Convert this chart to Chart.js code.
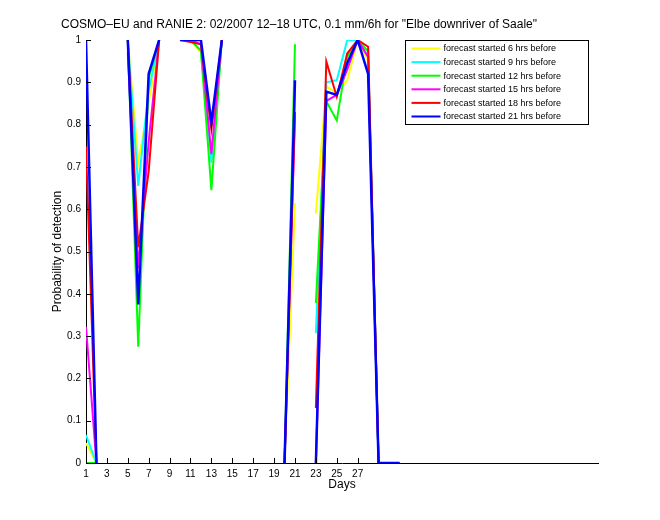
<!DOCTYPE html>
<html>
<head>
<meta charset="utf-8">
<script src="https://cdn.jsdelivr.net/npm/chart.js@4.4.1/dist/chart.umd.min.js"></script>
<style>
  html, body { margin: 0; padding: 0; background: #ffffff; }
  #wrap { width: 660px; height: 520px; position: relative; }
</style>
</head>
<body>
<div id="wrap"><canvas id="c" width="660" height="520"></canvas></div>
<script>
// ---- data (days 1..31, null = no value) ----
const days = [1,2,3,4,5,6,7,8,9,10,11,12,13,14,15,16,17,18,19,20,21,22,23,24,25,26,27,28,29,30,31];
const xTickValues = [1,3,5,7,9,11,13,15,17,19,21,23,25,27];
const seriesLabels = [
  'forecast started 6 hrs before',
  'forecast started 9 hrs before',
  'forecast started 12 hrs before',
  'forecast started 15 hrs before',
  'forecast started 18 hrs before',
  'forecast started 21 hrs before'
];
const seriesColors = ['#ffff00', '#00ffff', '#00ff00', '#ff00ff', '#ff0000', '#0000ff'];

const fc6h  = [0.047,0,null,null,1,0.71,0.85,1,null,1,1,0.97,0.716,1,null,null,null,null,null,0,0.614,null,0.59,0.89,0.875,0.905,1,0.95,0,0,0];
const fc9h  = [0.066,0,null,null,1,0.655,0.88,1,null,1,1,0.975,0.71,1,null,null,null,null,null,0,0.88,null,0.307,0.90,0.905,1,1,0.96,0,0,0];
const fc12h = [0,0,null,null,1,0.275,0.91,1,null,1,1,0.975,0.645,1,null,null,null,null,null,0,0.99,null,0.378,0.855,0.81,0.96,1,0.973,0,0,0];
const fc15h = [0.322,0,null,null,0.97,0.46,0.76,1,null,1,1,0.99,0.73,1,null,null,null,null,null,0,0.82,null,0,0.856,0.87,0.93,1,0.96,0,0,0];
const fc18h = [0.748,0,null,null,1,0.51,0.69,1,null,1,0.995,0.99,0.79,1,null,null,null,null,null,0,0.83,null,0.13,0.949,0.866,0.968,1,0.984,0,0,0];
const fc21h = [1,0,null,null,1,0.375,0.92,1,null,1,1,1,0.805,1,null,null,null,null,null,0,0.905,null,0,0.878,0.87,0.945,1,0.92,0,0,0];

const seriesValues = [fc6h, fc9h, fc12h, fc15h, fc18h, fc21h];

const FONT = '"Liberation Sans", Arial, Helvetica, sans-serif';

const datasets = seriesValues.map((vals, i) => ({
  label: seriesLabels[i],
  data: days.map((d, k) => ({x: d, y: vals[k]})),
  borderColor: seriesColors[i],
  backgroundColor: seriesColors[i],
  borderWidth: i === 5 ? 2.5 : 2,
  pointRadius: 0,
  tension: 0,
  spanGaps: false,
  fill: false,
  order: 5 - i
}));

// inward tick marks + boxed legend
const matlabAxes = {
  id: 'matlabAxes',
  afterDraw(chart) {
    const ctx = chart.ctx;
    const xs = chart.scales.x, ys = chart.scales.y;
    const area = chart.chartArea;
    ctx.save();
    ctx.strokeStyle = '#000';
    ctx.lineWidth = 1;
    ctx.beginPath();
    xs.ticks.forEach(t => {
      const px = Math.round(xs.getPixelForValue(t.value)) + 0.5;
      ctx.moveTo(px, area.bottom);
      ctx.lineTo(px, area.bottom - 5);
    });
    ys.ticks.forEach(t => {
      const py = Math.round(ys.getPixelForValue(t.value)) + 0.5;
      ctx.moveTo(area.left, py);
      ctx.lineTo(area.left + 5, py);
    });
    ctx.stroke();

    // legend
    const bx = 405.5, by = 40.5, bw = 183, bh = 84;
    ctx.fillStyle = '#fff';
    ctx.fillRect(bx, by, bw, bh);
    ctx.strokeRect(bx, by, bw, bh);
    ctx.font = '9px ' + FONT;
    ctx.textBaseline = 'middle';
    ctx.textAlign = 'left';
    chart.data.datasets.forEach((ds, i) => {
      const yy = by + 8 + i * 13.6;
      ctx.strokeStyle = ds.borderColor;
      ctx.lineWidth = 2;
      ctx.beginPath();
      ctx.moveTo(bx + 6, yy);
      ctx.lineTo(bx + 35, yy);
      ctx.stroke();
      ctx.fillStyle = '#000';
      ctx.fillText(ds.label, bx + 38, yy + 0.5);
    });
    ctx.restore();
  }
};

new Chart(document.getElementById('c'), {
  type: 'line',
  data: { datasets },
  plugins: [matlabAxes],
  options: {
    responsive: false,
    animation: false,
    devicePixelRatio: 1,
    layout: { padding: { left: 0, right: 62, top: 0, bottom: 0 } },
    plugins: {
      legend: { display: false },
      tooltip: { enabled: false },
      title: {
        display: true,
        text: 'COSMO–EU and RANIE 2: 02/2007 12–18 UTC, 0.1 mm/6h for "Elbe downriver of Saale"',
        color: '#000',
        font: { family: FONT, size: 12, weight: 'normal', lineHeight: 1.2 },
        padding: { top: 17, bottom: 8.6 }
      }
    },
    scales: {
      x: {
        type: 'linear',
        min: 1,
        max: 50,
        afterBuildTicks(scale) { scale.ticks = xTickValues.map(v => ({ value: v })); },
        afterFit(scale) { scale.height = 57; },
        ticks: {
          color: '#000',
          autoSkip: false,
          maxRotation: 0,
          padding: 5,
          font: { family: FONT, size: 10 },
          callback: v => String(v)
        },
        grid: { display: false, drawTicks: false },
        border: { display: true, color: '#000', width: 1 },
        title: {
          display: true,
          text: 'Days',
          color: '#000',
          font: { family: FONT, size: 12, lineHeight: 1.2 },
          padding: { top: 0, bottom: 28 }
        }
      },
      y: {
        type: 'linear',
        min: 0,
        max: 1,
        afterFit(scale) { scale.width = 86; },
        ticks: {
          stepSize: 0.1,
          color: '#000',
          padding: 5,
          font: { family: FONT, size: 10 },
          callback: v => String(Number(Number(v).toFixed(1)))
        },
        grid: { display: false, drawTicks: false },
        border: { display: true, color: '#000', width: 1 },
        title: {
          display: true,
          text: 'Probability of detection',
          color: '#000',
          font: { family: FONT, size: 12, lineHeight: 1.2 },
          padding: { top: 50, bottom: 0 }
        }
      }
    }
  }
});
</script>
</body>
</html>
